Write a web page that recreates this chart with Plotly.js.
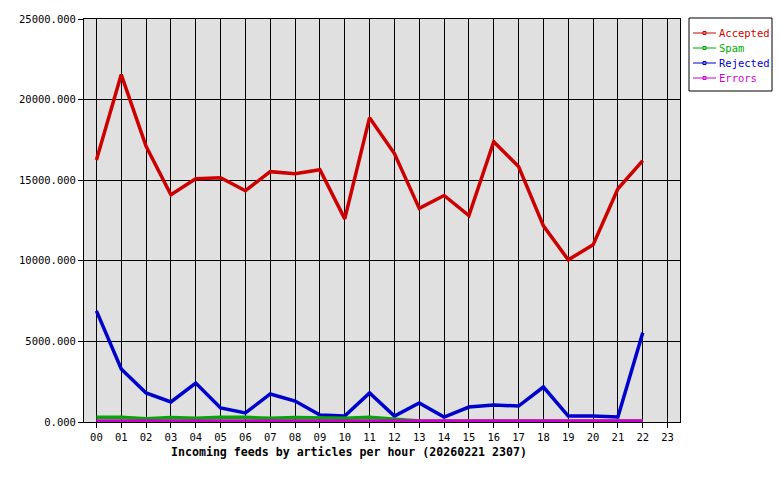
<!DOCTYPE html>
<html>
<head>
<meta charset="utf-8">
<script src="https://cdn.plot.ly/plotly-3.0.1.min.js"></script>
<style>
  html, body { margin: 0; padding: 0; background: #ffffff; }
  #chart { width: 780px; height: 480px; }
</style>
</head>
<body>
<div id="chart"></div>
<script>
// ---- data ----
const hours = ["00","01","02","03","04","05","06","07","08","09","10","11","12","13","14","15","16","17","18","19","20","21","22","23"];
const dataHours = ["00","01","02","03","04","05","06","07","08","09","10","11","12","13","14","15","16","17","18","19","20","21","22"];
const seriesNames = ["Accepted", "Spam", "Rejected", "Errors"];
const accepted = [16250, 21550, 17100, 14100, 15090, 15150, 14350, 15530, 15400, 15650, 12600, 18880, 16650, 13250, 14050, 12800, 17390, 15850, 12170, 10060, 10990, 14470, 16210];
const spam     = [290, 290, 200, 280, 230, 290, 290, 230, 280, 230, 230, 290, 180, 60, 50, 50, 50, 50, 50, 50, 50, 50, 50];
const rejected = [6890, 3290, 1800, 1240, 2420, 870, 560, 1740, 1300, 430, 370, 1800, 370, 1180, 310, 930, 1060, 990, 2170, 370, 370, 310, 5530];
const errors   = [60, 60, 60, 60, 60, 60, 60, 60, 60, 60, 60, 60, 60, 60, 60, 60, 60, 60, 60, 60, 60, 60, 60];
const yTicks = [0, 5000, 10000, 15000, 20000, 25000];
const xTitle = "Incoming feeds by articles per hour (20260221 2307)";

// ---- styles ----
const colors = ["#cc0000", "#00aa00", "#0000cc", "#cc00cc"];
const mono = "DejaVu Sans Mono, Liberation Mono, monospace";

const L = 84, R = 680, T = 19, B = 422, W = 780, H = 480;
function px(x) { return (x - L) / (R - L); }
function py(y) { return (B - y) / (B - T); }

const seriesData = [accepted, spam, rejected, errors];
// draw order: errors below? keep magenta on top of green as in reference
const order = [0, 2, 1, 3];
const traces = order.map(i => ({
  type: "scatter",
  mode: "lines",
  x: dataHours,
  y: seriesData[i],
  name: seriesNames[i],
  line: { color: colors[i], width: 3.5 },
  showlegend: false,
  hoverinfo: "skip"
}));

const shapes = [];
const annotations = [];
// legend box
shapes.push({ type: "rect", xref: "paper", yref: "paper",
  x0: px(689), x1: px(772), y0: py(18), y1: py(91),
  line: { color: "#000000", width: 1 }, fillcolor: "#ffffff", layer: "above" });
seriesNames.forEach((name, i) => {
  const yy = 33 + i * 15;
  shapes.push({ type: "line", xref: "paper", yref: "paper",
    x0: px(693), x1: px(716), y0: py(yy), y1: py(yy),
    line: { color: colors[i], width: 1 }, layer: "above" });
  shapes.push({ type: "rect", xref: "paper", yref: "paper",
    x0: px(703), x1: px(706), y0: py(yy - 1.5), y1: py(yy + 1.5),
    line: { color: colors[i], width: 1 }, fillcolor: "rgba(0,0,0,0)", layer: "above" });
  annotations.push({ xref: "paper", yref: "paper", x: px(717), y: py(yy),
    xanchor: "left", yanchor: "middle", showarrow: false, text: name,
    font: { family: mono, size: 10.5, color: colors[i] } });
});
annotations.push({ xref: "paper", yref: "paper", x: px(349), y: py(452),
  xanchor: "center", yanchor: "middle", showarrow: false,
  text: "<b>" + xTitle + "</b>",
  font: { family: mono, size: 11.6, color: "#000000" } });

const layout = {
  width: W, height: H,
  margin: { l: L, r: W - R, t: T, b: H - B, pad: 0 },
  paper_bgcolor: "#ffffff",
  plot_bgcolor: "#e0e0e0",
  showlegend: false,
  xaxis: {
    type: "category",
    categoryorder: "array",
    categoryarray: hours,
    tickvals: hours,
    ticktext: hours,
    range: [-0.5, 23.5],
    showgrid: true, gridcolor: "#000000", gridwidth: 1,
    showline: true, linecolor: "#000000", linewidth: 1, mirror: true,
    ticks: "outside", ticklen: 5, tickcolor: "#000000",
    tickfont: { family: mono, size: 10.5, color: "#000000" },
    zeroline: false, fixedrange: true
  },
  yaxis: {
    range: [0, 25000],
    tickvals: yTicks,
    tickformat: ".3f",
    showgrid: true, gridcolor: "#000000", gridwidth: 1,
    showline: true, linecolor: "#000000", linewidth: 1, mirror: true,
    ticks: "outside", ticklen: 5, tickcolor: "#000000",
    tickfont: { family: mono, size: 10.5, color: "#000000" },
    zeroline: false, fixedrange: true
  },
  shapes: shapes,
  annotations: annotations
};

Plotly.newPlot("chart", traces, layout, { displayModeBar: false, staticPlot: true });
</script>
</body>
</html>
